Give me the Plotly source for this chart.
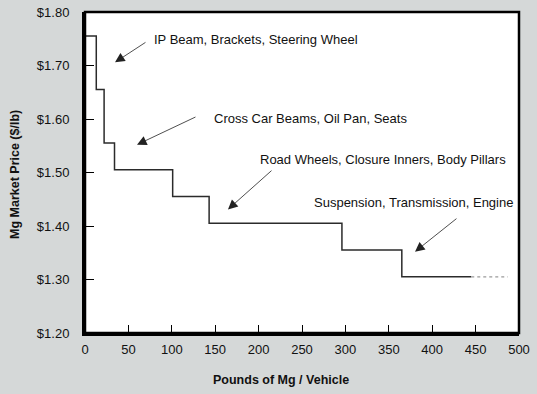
import plotly.graph_objects as go

# Data
breaks = [0, 13, 22, 34, 101, 143, 296, 365, 445]
prices = [1.755, 1.655, 1.555, 1.505, 1.455, 1.405, 1.355, 1.305]
tail_x = [445, 487]
tail_y = [1.305, 1.305]

labels = [
    "IP Beam, Brackets, Steering Wheel",
    "Cross Car Beams, Oil Pan, Seats",
    "Road Wheels, Closure Inners, Body Pillars",
    "Suspension, Transmission, Engine",
]
label_x = [77, 146, 199, 261.5]
label_y = [1.749, 1.601, 1.524, 1.444]
head_x = [34.6, 59.9, 164.7, 380.2]
head_y = [1.706, 1.552, 1.431, 1.352]
tailpt_x = [71.4, 129, 216.6, 429.7]
tailpt_y = [1.745, 1.605, 1.506, 1.416]

x_ticks = [0, 50, 100, 150, 200, 250, 300, 350, 400, 450, 500]
y_ticks = [1.20, 1.30, 1.40, 1.50, 1.60, 1.70, 1.80]
y_ticktext = ["$%.2f" % v for v in y_ticks]

W, H = 537, 394
ML, MR, MT, MB = 85, 18, 12, 61
BG = "#d5d8d8"

fig = go.Figure()
fig.add_trace(go.Scatter(
    x=breaks, y=prices + [prices[-1]], mode="lines", line_shape="hv",
    line=dict(color="#2b2b2b", width=1.5), showlegend=False, hoverinfo="skip"))
fig.add_trace(go.Scatter(
    x=tail_x, y=tail_y, mode="lines",
    line=dict(color="#9a9a9a", width=1.2, dash="dot"), showlegend=False, hoverinfo="skip"))

annotations = []
for t, lx, ly in zip(labels, label_x, label_y):
    annotations.append(dict(x=lx, y=ly, xref="x", yref="y", text=t, showarrow=False,
                            xanchor="left", yanchor="middle",
                            font=dict(family="Liberation Sans, Arial", size=13, color="#111")))
for hx, hy, tx, ty in zip(head_x, head_y, tailpt_x, tailpt_y):
    annotations.append(dict(x=hx, y=hy, ax=tx, ay=ty, xref="x", yref="y", axref="x", ayref="y",
                            text="", showarrow=True, arrowhead=2, arrowsize=2.4, arrowwidth=0.8,
                            arrowcolor="#222"))

pw = W - ML - MR
ph = H - MT - MB
# axis titles as paper annotations
annotations.append(dict(x=(281 - ML) / pw, y=(H - MB - 380) / ph, xref="paper", yref="paper",
                        text="<b>Pounds of Mg / Vehicle</b>", showarrow=False,
                        xanchor="center", yanchor="middle",
                        font=dict(family="Liberation Sans, Arial", size=12.5, color="#111")))
annotations.append(dict(x=(15 - ML) / pw, y=(H - MB - 175) / ph, xref="paper", yref="paper",
                        text="<b>Mg Market Price ($/lb)</b>", showarrow=False, textangle=-90,
                        xanchor="center", yanchor="middle",
                        font=dict(family="Liberation Sans, Arial", size=12.5, color="#111")))

font = dict(family="Liberation Sans, Arial", size=13, color="#111")
fig.update_layout(
    width=W, height=H,
    margin=dict(l=ML, r=MR, t=MT, b=MB, autoexpand=False),
    paper_bgcolor=BG, plot_bgcolor="white",
    font=font,
    annotations=annotations,
    shapes=[dict(type="rect", xref="paper", yref="paper", x0=0, y0=0, x1=1, y1=1,
                 line=dict(color="black", width=2.5), layer="above")],
    xaxis=dict(range=[0, 500], tickvals=x_ticks, showgrid=False, zeroline=False,
               showline=True, linecolor="black", linewidth=3, automargin=False,
               ticks="inside", ticklen=8, tickcolor="black", tickwidth=1,
               ticklabelstandoff=2),
    yaxis=dict(range=[1.2, 1.8], tickvals=y_ticks, ticktext=y_ticktext,
               showgrid=False, zeroline=False, automargin=False,
               showline=True, linecolor="black", linewidth=3,
               ticks="inside", ticklen=9, tickcolor="black", tickwidth=1,
               ticklabelstandoff=10),
)

fig.write_html("out.html", config={"displayModeBar": False},
               post_script="document.body.style.margin='0';document.body.style.background='%s';" % BG)
